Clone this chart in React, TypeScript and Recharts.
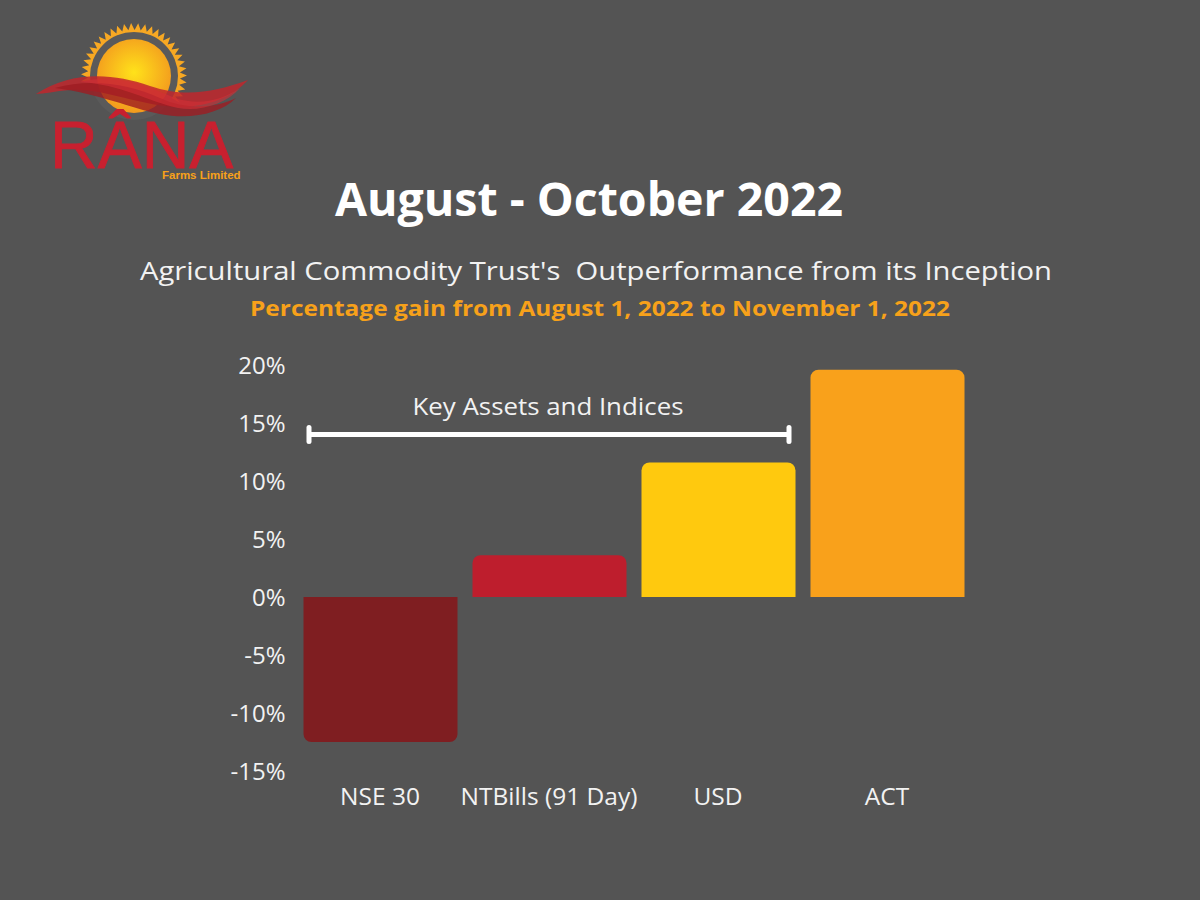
import React from 'react';
import { BarChart, Bar, XAxis, YAxis, Cell, ReferenceLine } from 'recharts';

const categories = ['NSE 30', 'NTBills (91 Day)', 'USD', 'ACT'];
const gains = [-12.5, 3.6, 11.6, 19.6];
const barColors = ['#7f1e21', '#be1e2d', '#ffc90e', '#f9a11b'];
const yTicks = [-15, -10, -5, 0, 5, 10, 15, 20];
const bracketValue = 14;
const bracketLabel = 'Key Assets and Indices';

const title = 'August - October 2022';
const subtitle = "Agricultural Commodity Trust's\u00a0 Outperformance from its Inception";
const subtitle2 = 'Percentage gain from August 1, 2022 to November 1, 2022';

const data = categories.map((name, i) => ({ name, gain: gains[i] }));

const BG = '#545454';
const TEXT = '#f2f2f2';
const FONT = '"Open Sans", "Noto Sans", sans-serif';

const BracketShape = (props: any) => {
  const { x1, x2, y1 } = props;
  const left = x1 + 13.5;
  const right = x2 - 182.5;
  const y = y1;
  const mid = (left + right) / 2;
  return (
    <g>
      <line x1={left} x2={right} y1={y} y2={y} stroke="#ffffff" strokeWidth={5} />
      <line x1={left} x2={left} y1={y - 7} y2={y + 7} stroke="#ffffff" strokeWidth={5} strokeLinecap="round" />
      <line x1={right} x2={right} y1={y - 7} y2={y + 7} stroke="#ffffff" strokeWidth={5} strokeLinecap="round" />
      <text x={mid - 1} y={y - 20} textAnchor="middle" fill={TEXT} fontSize={24} fontFamily={FONT} textLength={271} lengthAdjust="spacingAndGlyphs">
        {bracketLabel}
      </text>
    </g>
  );
};

const Logo = () => {
  const cx = 134;
  const cy = 76;
  const rays: string[] = [];
  const n = 28;
  for (let i = 0; i <= n * 2; i++) {
    const a = Math.PI + (Math.PI * 1.2 * i) / (n * 2) - 0.1;
    const r = i % 2 === 0 ? 53 : 46;
    rays.push(`${cx + r * Math.cos(a)},${cy + r * Math.sin(a)}`);
  }
  rays.push(`${cx},${cy}`);
  return (
    <g>
      <defs>
        <radialGradient id="sunGrad" cx="50%" cy="45%" r="55%">
          <stop offset="0%" stopColor="#ffe21a" />
          <stop offset="100%" stopColor="#f39a1e" />
        </radialGradient>
      </defs>
      <polygon points={rays.join(' ')} fill="#f7a823" />
      <circle cx={cx} cy={cy} r={44} fill="#5a5a5a" />
      <circle cx={cx} cy={cy} r={37} fill="url(#sunGrad)" />
      <path d="M36,94 C70,72 110,72 150,86 C185,98 215,92 248,80 C230,100 200,110 165,106 C130,102 100,88 70,90 C55,91 44,94 36,94 Z" fill="#c1272d" opacity={0.85} />
      <path d="M55,88 C90,78 130,84 160,98 C190,112 220,106 236,98 C220,114 190,120 160,114 C130,108 100,94 55,88 Z" fill="#9e1c22" opacity={0.8} />
      <path d="M80,82 C120,72 150,88 175,98 C200,106 222,100 240,88 C226,104 200,112 178,108 C150,102 120,84 80,82 Z" fill="#d32f36" opacity={0.6} />
      <text fontFamily='"Liberation Sans", Arial, sans-serif'>
        <tspan x={50} y={168} fill="#c8202f" fontSize={66} stroke="#c8202f" strokeWidth={0.8}>RÂNA</tspan>
        <tspan x={162} y={179} fill="#f7a11a" fontSize={11.5} fontWeight="bold">Farms Limited</tspan>
      </text>
    </g>
  );
};

export default function App() {
  return (
    <div style={{ position: 'absolute', left: 0, top: 0, width: 1200, height: 900, background: BG, overflow: 'hidden' }}>
      <svg width={1200} height={900} style={{ position: 'absolute', left: 0, top: 0 }}>
        <Logo />
        <text x={589} y={216} textAnchor="middle" fill="#ffffff" fontSize={46.5} fontWeight="bold" fontFamily='"Open Sans", sans-serif'>
          {title}
        </text>
        <text x={596} y={280} textAnchor="middle" fill={TEXT} fontSize={25} fontFamily={FONT} textLength={912} lengthAdjust="spacingAndGlyphs">
          {subtitle}
        </text>
        <text x={600} y={316} textAnchor="middle" fill="#f7a11a" fontSize={22} fontWeight="bold" fontFamily='"Open Sans", sans-serif' textLength={700} lengthAdjust="spacingAndGlyphs">
          {subtitle2}
        </text>
      </svg>
      <div style={{ position: 'absolute', left: 0, top: 0 }}>
        <BarChart
          width={1200}
          height={900}
          data={data}
          margin={{ top: 365, right: 228.5, bottom: 99, left: 235.5 }}
        >
          <XAxis
            dataKey="name"
            axisLine={false}
            tickLine={false}
            tickSize={0}
            tickMargin={17}
            height={30}
            interval={0}
            tick={{ fill: TEXT, fontSize: 24.5, fontFamily: FONT }}
          />
          <YAxis
            type="number"
            domain={[-15, 20]}
            ticks={yTicks}
            allowDataOverflow
            axisLine={false}
            tickLine={false}
            tickSize={0}
            tickMargin={10}
            width={60}
            tickFormatter={(v: number) => `${v}%`}
            tick={{ fill: TEXT, fontSize: 24, fontFamily: FONT }}
          />
          <Bar dataKey="gain" barSize={154} radius={[8, 8, 0, 0]} isAnimationActive={false}>
            {data.map((d, i) => (
              <Cell key={d.name} fill={barColors[i]} />
            ))}
          </Bar>
          <ReferenceLine y={bracketValue} shape={BracketShape} ifOverflow="visible" />
        </BarChart>
      </div>
    </div>
  );
}
